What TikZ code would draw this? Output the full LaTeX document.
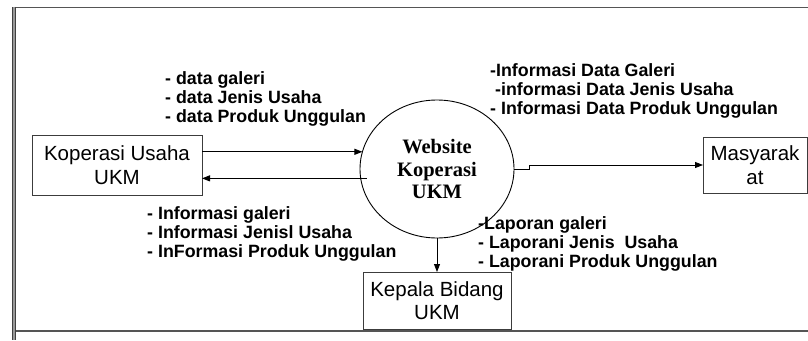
\documentclass[tikz,border=0pt]{standalone}
\usepackage{fontspec}
\setmainfont{Liberation Sans}
\newfontfamily\serifbold{Liberation Serif}
\usetikzlibrary{arrows.meta,shapes.geometric}
\definecolor{LineGray}{RGB}{60,60,60}
\definecolor{RimGray}{RGB}{85,85,85}
\tikzset{
  ebox/.style={draw=LineGray,rectangle,line width=1pt,inner sep=0pt,outer sep=0pt,
               align=center,font=\fontsize{20.5}{23.5}\selectfont},
  proc/.style={draw=black,ellipse,line width=0.9pt,minimum width=154pt,minimum height=138pt,
               inner sep=0pt,outer sep=0pt,align=center,
               font=\serifbold\bfseries\fontsize{20.5}{22.5}\selectfont},
  lbl/.style={anchor=west,align=left,inner sep=0pt,font=\bfseries\fontsize{17.8}{19}\selectfont},
  arr/.style={-{Triangle[length=8pt,width=6pt]},black,line width=0.9pt},
  rim/.style={RimGray,line width=1.5pt},
}

\begin{document}
\begin{tikzpicture}[x=1pt,y=-1pt]
  \useasboundingbox (0,0) rectangle (808,340);
  % outer frame
  \draw[rim,line width=1.4pt] (14,7.5) -- (808,7.5);
  \draw[rim] (15,331) -- (808,331);
  \draw[draw=black!75,double=black!40,double distance=1.6pt,line width=0.9pt] (14,6.8) -- (14,340);

  \node[ebox,minimum width=170pt,minimum height=60pt] (kus) at (117,165) {Koperasi Usaha\\UKM};
  \node[proc] (web) at (437,169) {Website\\Koperasi\\UKM};
  \node[ebox,minimum width=104pt,minimum height=56pt] (masy) at (755,165) {Masyarak\\at};
  \node[ebox,minimum width=148pt,minimum height=57pt] (kep) at (437,300.5) {Kepala Bidang\\UKM};

  \node[lbl] (datain) at (165,99) {- data galeri\\- data Jenis Usaha\\- data Produk Unggulan};
  \node[lbl] (infoout) at (490,91) {-Informasi Data Galeri\\\hspace*{5pt}-informasi Data Jenis Usaha\\- Informasi Data Produk Unggulan};
  \node[lbl] (infoin) at (147,234) {- Informasi galeri\\- Informasi Jenisl Usaha\\- InFormasi Produk Unggulan};
  \node[lbl] (lapout) at (478,244) {-Laporan galeri\\- Laporani Jenis\ \ Usaha\\- Laporani Produk Unggulan};

  \draw[arr] (kus.east |- web.167) -- (web.167);
  \draw[arr] ([xshift=6pt]web.187) -- (kus.east |- web.187);
  \draw[arr] (web.east) -- ++(15pt,0) |- (masy.west);
  \draw[arr] (web.south) -- (kep.north);
\end{tikzpicture}
\end{document}
